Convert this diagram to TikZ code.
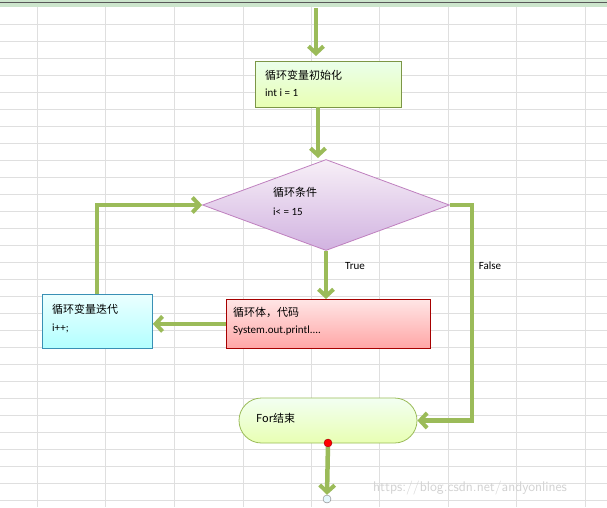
\documentclass[tikz,border=0pt]{standalone}
\usepackage{fontspec}
\setmainfont{Carlito}
\newfontfamily\cjk{Noto Sans CJK SC}
\usetikzlibrary{arrows.meta,shapes.geometric,shapes.misc}
\definecolor{arr}{HTML}{9BBB59}
\begin{document}
\begin{tikzpicture}[x=1pt,y=-1pt,
 conn/.style={draw=arr,line width=4.5pt,-{Straight Barb[length=7pt,width=15pt,line width=4pt]}},
 box/.style={draw,line width=0.8pt,minimum width=#1,anchor=north west,inner sep=0pt},
 t1/.style={font=\cjk\fontsize{11}{13}\selectfont,anchor=west,inner sep=0pt},
 t2/.style={font=\fontsize{11}{13}\selectfont,anchor=west,inner sep=0pt},
 lbl/.style={font=\fontsize{11}{13}\selectfont,inner sep=0pt}]
\fill[white] (0,0) rectangle (607,507);
\useasboundingbox (0,0) rectangle (607,507);
% grid
\foreach \x in {37.5,105,174,243,311,379,448,516,585} \draw[gray!25,line width=0.8pt] (\x,7) -- (\x,507);
\foreach \y in {24,41,58,75,92,109,126,143,160,177,194,211,228,245,262,279,296,313,330,347,364,381,398,415,432,449,466,483,500} \draw[gray!25,line width=0.8pt] (0,\y) -- (607,\y);
\fill[green!50!black!20] (0,0) rectangle (607,7);
\draw[gray!70!black,line width=0.8pt] (0,2) -- (607,2);
% nodes
\node[box, draw=arr!80!black, top color=green!8!white, bottom color=green!30!yellow!30!white, minimum width=146pt, minimum height=46pt] (init) at (255,61) {};
\node[t1] (initA) at (265,75) {循环变量初始化};
\node[t2] (initB) at (265,93) {int i = 1};
\node[diamond, draw=violet!50, line width=0.8pt, top color=violet!6, bottom color=blue!20!violet!30, aspect=2.7, minimum width=247pt, minimum height=91pt, inner sep=0pt] (cond) at (326,205) {};
\node[t1] (condA) at (273,192) {循环条件};
\node[t2] (condB) at (273,212) {i< = 15};
\node[box, draw=cyan!70!black, top color=cyan!8, bottom color=cyan!30, minimum width=110pt, minimum height=54pt] (iter) at (42,294) {};
\node[t1] (iterA) at (52,309) {循环变量迭代};
\node[t2] (iterB) at (52,328) {i++;};
\node[box, draw=red!65!black, top color=red!10, bottom color=red!35, minimum width=204pt, minimum height=49pt] (body) at (226,299) {};
\node[t1] (bodyA) at (233,312) {循环体，代码};
\node[t2] (bodyB) at (233,331) {System.out.printl....};
\node[rounded rectangle, draw=arr, line width=0.8pt, top color=green!5!white, bottom color=green!30!yellow!30!white, minimum width=178pt, minimum height=45pt, inner sep=0pt] (end) at (328,420.5) {};
\node[t1] (endA) at (256,418) {For结束};
\node[circle, fill=red, draw=red!60!black, minimum size=8pt, inner sep=0pt] (dot) at (328,443) {};
\node[circle, fill=cyan!10, draw=gray, minimum size=8pt, inner sep=0pt] (fin) at (327,499) {};
\coordinate (top) at (316,8);
\coordinate (initout) at (318,107);
\coordinate (condin) at (318,158);
\node[lbl] (tl) at (355,266) {True};
\node[lbl] (fl) at (490,266) {False};
\node[font=\fontsize{14}{16}\selectfont\sffamily, text=gray!35, inner sep=0pt] (wm) at (470,488) {https://blog.csdn.net/andyonlines};
% connectors
\draw[conn] (top) -- (316,56);
\draw[conn] (initout) -- (condin);
\draw[conn] (cond.south) -- (body.north -| cond.south);
\draw[conn] (body.west) -- (iter.east |- body.west);
\draw[conn] (97,294) -- (97,205) -- (cond.west);
\draw[conn] (cond.east) -- (472,205) -- (472,420.5) -- (end.east);
\draw[conn] (dot) -- (fin.north);
\end{tikzpicture}
\end{document}
